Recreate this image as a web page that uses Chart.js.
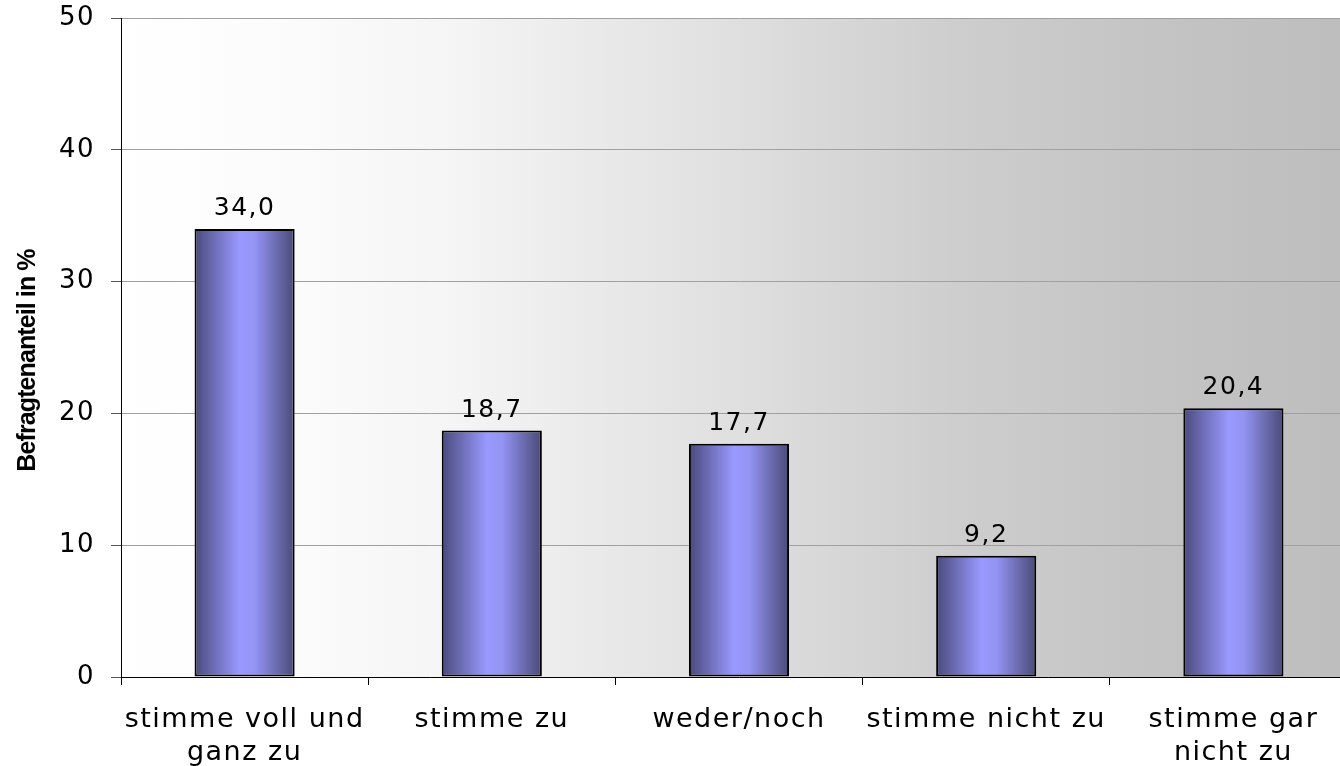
<!DOCTYPE html>
<html>
<head>
<meta charset="utf-8">
<script src="https://cdn.jsdelivr.net/npm/chart.js@4"></script>
<style>
  html, body { margin: 0; padding: 0; background: #fff; overflow: hidden; }
  #wrap { width: 1357px; height: 766px; }
</style>
</head>
<body>
<div id="wrap"><canvas id="c"></canvas></div>
<script>
// Daten
const categories = [
  ['stimme voll und', 'ganz zu'],
  'stimme zu',
  'weder/noch',
  'stimme nicht zu',
  ['stimme gar', 'nicht zu']
];
const values = [34.0, 18.7, 17.7, 9.2, 20.4];
const yTicks = [0, 10, 20, 30, 40, 50];
const yTitle = 'Befragtenanteil in %';

const FONT = '"DejaVu Sans", sans-serif';
const BAR_PCT = 0.405;

// Hintergrund-Verlauf der Zeichenfläche (+ Laufweite der Schrift)
const bgPlugin = {
  id: 'bg',
  beforeDraw(chart) {
    const { ctx, chartArea: a } = chart;
    ctx.letterSpacing = '1.5px';
    const g = ctx.createLinearGradient(a.left, 0, a.right, 0);
    g.addColorStop(0, '#ffffff');
    g.addColorStop(0.145, '#fbfbfb');
    g.addColorStop(0.266, '#f5f5f5');
    g.addColorStop(0.468, '#e2e2e2');
    g.addColorStop(0.671, '#cecece');
    g.addColorStop(0.833, '#c4c4c4');
    g.addColorStop(1, '#bdbdbd');
    ctx.save();
    ctx.fillStyle = g;
    ctx.fillRect(a.left, a.top, a.right - a.left, a.bottom - a.top);
    ctx.restore();
  }
};

// Balken mit horizontalem Verlauf
function barFill(c) {
  const xs = c.chart.scales.x;
  if (c.dataIndex === undefined || !xs) return '#9999ff';
  const cx = xs.getPixelForValue(c.dataIndex);
  const w = (xs.width / categories.length) * BAR_PCT;
  if (!isFinite(cx) || !isFinite(w) || w <= 0) return '#9999ff';
  const g = c.chart.ctx.createLinearGradient(cx - w / 2, 0, cx + w / 2, 0);
  g.addColorStop(0, '#4a4a7c');
  g.addColorStop(0.45, '#9999ff');
  g.addColorStop(0.6, '#9494f4');
  g.addColorStop(1, '#4a4a78');
  return g;
}

// Werte über den Balken + Achsentitel (enge Laufweite)
const valueLabels = {
  id: 'valueLabels',
  afterDatasetsDraw(chart) {
    const ctx = chart.ctx;
    ctx.save();
    ctx.font = '25px ' + FONT;
    ctx.fillStyle = '#000';
    ctx.textAlign = 'center';
    ctx.textBaseline = 'alphabetic';
    chart.getDatasetMeta(0).data.forEach((el, i) => {
      ctx.fillText(values[i].toFixed(1).replace('.', ','), el.x, el.y - 14);
    });
    ctx.restore();
  },
  afterDraw(chart) {
    const ctx = chart.ctx, a = chart.chartArea;
    ctx.save();
    ctx.letterSpacing = '-0.9px';
    ctx.font = 'bold 25px "Liberation Sans", Arial, sans-serif';
    ctx.fillStyle = '#000';
    ctx.textAlign = 'center';
    ctx.textBaseline = 'middle';
    ctx.translate(28, (a.top + a.bottom) / 2 + 13);
    ctx.rotate(-Math.PI / 2);
    ctx.fillText(yTitle, 0, 0);
    ctx.restore();
  }
};

new Chart(document.getElementById('c'), {
  type: 'bar',
  data: {
    labels: categories,
    datasets: [{
      data: values,
      backgroundColor: barFill,
      borderColor: '#000',
      borderWidth: 2,
      borderSkipped: false,
      categoryPercentage: 1,
      barPercentage: BAR_PCT
    }]
  },
  options: {
    responsive: true, maintainAspectRatio: false, animation: false,
    layout: { padding: { top: 18, left: 0, right: 0, bottom: 0 } },
    plugins: { legend: { display: false }, tooltip: { enabled: false } },
    scales: {
      x: {
        grid: { drawOnChartArea: false, tickLength: 8, tickColor: '#000', offset: true },
        border: { color: '#000', width: 1 },
        ticks: { color: '#000', font: { family: FONT, size: 27 }, padding: 19, maxRotation: 0 },
        afterFit: s => { s.height = 89; }
      },
      y: {
        min: 0, max: 50,
        afterBuildTicks: s => { s.ticks = yTicks.map(v => ({ value: v })); },
        grid: { color: '#a0a0a0', tickLength: 10, tickColor: '#555' },
        border: { color: '#000', width: 1 },
        ticks: { color: '#000', font: { family: FONT, size: 26, lineHeight: 0.1 }, padding: 16 },
        afterFit: s => { s.width = 121; }
      }
    }
  },
  plugins: [bgPlugin, valueLabels]
});
</script>
</body>
</html>
